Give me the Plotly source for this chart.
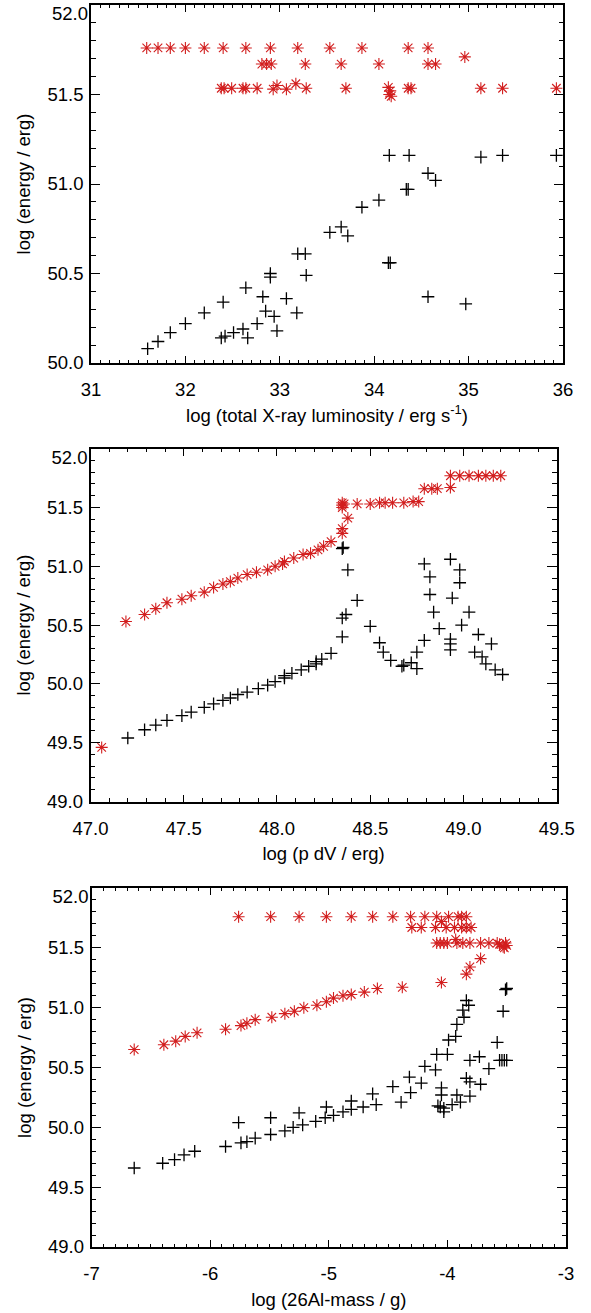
import plotly.graph_objects as go

# ---------------- Panel 1: log L_X vs log E ----------------
p1_red_x = [31.59, 31.71, 31.84, 32.00, 32.20, 32.40, 32.64, 32.90, 33.19, 33.53, 33.87, 34.36, 34.57, 34.96,
            32.81, 32.86, 32.91, 33.27, 33.65, 34.05, 34.57, 34.65,
            32.38, 32.41, 32.49, 32.61, 32.64, 32.76, 32.93, 32.97, 33.07, 33.17, 33.28, 33.70,
            34.15, 34.17, 34.16, 34.18, 34.36, 34.39, 35.13, 35.36, 35.93]
p1_red_y = [51.76, 51.76, 51.76, 51.76, 51.76, 51.76, 51.76, 51.76, 51.76, 51.76, 51.76, 51.76, 51.76, 51.71,
            51.67, 51.67, 51.67, 51.67, 51.67, 51.67, 51.67, 51.67,
            51.535, 51.535, 51.535, 51.535, 51.535, 51.535, 51.53, 51.55, 51.53, 51.56, 51.535, 51.535,
            51.54, 51.52, 51.50, 51.49, 51.535, 51.535, 51.535, 51.535, 51.535]
p1_blk_x = [31.60, 31.71, 31.84, 32.00, 32.20, 32.40, 32.38, 32.42, 32.51, 32.61, 32.66, 32.64, 32.76,
            32.82, 32.85, 32.90, 32.90, 32.94, 32.97, 33.07, 33.18, 33.19, 33.27, 33.28, 33.53, 33.65,
            33.72, 33.87, 34.05, 34.15, 34.17, 34.34, 34.36, 34.57, 34.65, 34.57, 34.97, 34.16, 34.37,
            35.13, 35.36, 35.93]
p1_blk_y = [50.08, 50.12, 50.17, 50.22, 50.28, 50.34, 50.14, 50.15, 50.17, 50.19, 50.14, 50.42, 50.22,
            50.37, 50.29, 50.50, 50.48, 50.26, 50.18, 50.36, 50.28, 50.61, 50.61, 50.49, 50.73, 50.76,
            50.71, 50.87, 50.91, 50.56, 50.56, 50.97, 50.97, 50.37, 51.02, 51.06, 50.33, 51.16, 51.16,
            51.15, 51.16, 51.16]

# ---------------- Panel 2: log pdV vs log E ----------------
p2_red_x = [47.06, 47.19, 47.29, 47.35, 47.41, 47.49, 47.54, 47.61, 47.66, 47.71, 47.75, 47.79, 47.84,
            47.89, 47.95, 47.99, 48.03, 48.04, 48.09, 48.14, 48.18, 48.22, 48.25, 48.29, 48.35, 48.35,
            48.38, 48.35, 48.35, 48.35, 48.36, 48.43, 48.50, 48.55, 48.58, 48.62, 48.68, 48.73, 48.76,
            48.79, 48.83, 48.86, 48.93, 48.93, 48.98, 49.03, 49.08, 49.12, 49.16, 49.20]
p2_red_y = [49.46, 50.53, 50.59, 50.64, 50.69, 50.72, 50.75, 50.78, 50.82, 50.85, 50.87, 50.90, 50.93,
            50.95, 50.97, 51.00, 51.02, 51.04, 51.07, 51.10, 51.11, 51.14, 51.17, 51.21, 51.28, 51.32,
            51.41, 51.50, 51.52, 51.54, 51.53, 51.53, 51.53, 51.54, 51.54, 51.54, 51.54, 51.55, 51.55,
            51.66, 51.66, 51.66, 51.67, 51.77, 51.77, 51.77, 51.77, 51.77, 51.77, 51.77]
p2_blk_x = [47.20, 47.29, 47.35, 47.41, 47.49, 47.54, 47.61, 47.66, 47.71, 47.75, 47.79, 47.84, 47.90,
            47.95, 47.99, 48.04, 48.04, 48.08, 48.13, 48.17, 48.21, 48.21, 48.24, 48.29,
            48.35, 48.35, 48.37, 48.43, 48.38, 48.35, 48.355,
            48.50, 48.55, 48.57, 48.61, 48.67, 48.68, 48.72, 48.75, 48.75,
            48.79, 48.79, 48.82, 48.82, 48.84, 48.87,
            48.93, 48.98, 48.98, 48.94, 49.03, 48.99, 48.93, 48.93, 48.93, 49.08, 49.15, 49.06, 49.10,
            49.12, 49.17, 49.21]
p2_blk_y = [49.54, 49.61, 49.65, 49.69, 49.73, 49.76, 49.80, 49.83, 49.86, 49.88, 49.91, 49.93, 49.96,
            49.99, 50.02, 50.05, 50.07, 50.09, 50.12, 50.15, 50.17, 50.19, 50.21, 50.26,
            50.40, 50.56, 50.59, 50.71, 50.97, 51.15, 51.16,
            50.49, 50.35, 50.27, 50.20, 50.15, 50.16, 50.18, 50.13, 50.27,
            50.37, 51.02, 50.91, 50.76, 50.61, 50.47,
            51.06, 50.97, 50.86, 50.73, 50.61, 50.50, 50.38, 50.34, 50.29, 50.42, 50.34, 50.27, 50.23,
            50.17, 50.12, 50.08]

# ---------------- Panel 3: log M(26Al) vs log E ----------------
p3_red_x = [-6.64, -6.39, -6.29, -6.21, -6.11, -5.87, -5.74, -5.69, -5.62, -5.48, -5.37, -5.29, -5.21,
            -5.10, -5.02, -4.96, -4.88, -4.81, -4.70, -4.59, -4.38, -4.05, -3.84, -3.81, -3.72,
            -5.76, -5.49, -5.25, -5.02, -4.81, -4.63, -4.46, -4.31, -4.19, -4.09, -3.99, -3.91, -3.88, -3.84,
            -4.05,
            -4.30, -4.22, -4.10, -4.01, -3.94, -3.88, -3.84, -3.80,
            -4.09, -4.06, -4.03, -4.00, -3.92, -3.87, -3.81, -3.72, -3.65, -3.58, -3.56, -3.53, -3.51,
            -3.50, -3.52, -3.93]
p3_red_y = [50.65, 50.69, 50.72, 50.76, 50.79, 50.82, 50.85, 50.87, 50.90, 50.92, 50.95, 50.97, 51.00,
            51.02, 51.05, 51.08, 51.10, 51.11, 51.13, 51.16, 51.17, 51.21, 51.28, 51.34, 51.41,
            51.76, 51.76, 51.76, 51.76, 51.76, 51.76, 51.76, 51.76, 51.76, 51.76, 51.76, 51.76, 51.76, 51.76,
            51.72,
            51.67, 51.67, 51.67, 51.67, 51.67, 51.67, 51.67, 51.67,
            51.54, 51.54, 51.54, 51.54, 51.54, 51.54, 51.54, 51.54, 51.54, 51.54, 51.53, 51.51, 51.54,
            51.52, 51.50, 51.57]
p3_blk_x = [-6.64, -6.40, -6.30, -6.22, -6.13, -5.87, -5.74, -5.69, -5.62, -5.76, -5.49, -5.49, -5.37,
            -5.30, -5.22, -5.25, -5.11, -5.03, -5.02, -4.96, -4.88, -4.81, -4.81, -4.71, -4.60, -4.63,
            -4.39, -4.31, -4.08, -4.06, -4.03, -4.03, -4.05, -3.96, -3.92, -3.89, -3.81,
            -4.46, -4.32, -4.22, -4.19, -4.10, -4.09, -4.00, -4.05, -3.99, -3.93, -3.92, -3.86, -3.87,
            -3.84, -3.82, -3.84, -3.81, -3.72, -3.81, -3.73, -3.65, -3.58, -3.53, -3.50, -3.51,
            -3.56, -3.54, -3.52, -3.50]
p3_blk_y = [49.66, 49.70, 49.73, 49.77, 49.80, 49.84, 49.87, 49.88, 49.91, 50.04, 49.94, 50.08, 49.97,
            50.00, 50.02, 50.12, 50.05, 50.08, 50.17, 50.10, 50.13, 50.15, 50.22, 50.17, 50.19, 50.28,
            50.21, 50.29, 50.18, 50.17, 50.16, 50.13, 50.27, 50.19, 50.27, 50.21, 50.26,
            50.34, 50.42, 50.37, 50.51, 50.48, 50.61, 50.61, 50.33, 50.73, 50.76, 50.86, 50.92, 50.98,
            51.06, 51.02, 50.41, 50.38, 50.36, 50.56, 50.59, 50.49, 50.71, 50.97, 51.16, 51.15,
            50.56, 50.56, 50.56, 50.56]

# ---------------- Axis tick labels ----------------
x1_tickvals = [31, 32, 33, 34, 35, 36]
x1_ticktext = ["31", "32", "33", "34", "35", "36"]
x2_tickvals = [47.0, 47.5, 48.0, 48.5, 49.0, 49.5]
x2_ticktext = ["47.0", "47.5", "48.0", "48.5", "49.0", "49.5"]
x3_tickvals = [-7, -6, -5, -4, -3]
x3_ticktext = ["-7", "-6", "-5", "-4", "-3"]
y1_tickvals = [50.0, 50.5, 51.0, 51.5]
y1_ticktext = ["50.0", "50.5", "51.0", "51.5"]
y23_tickvals = [49.0, 49.5, 50.0, 50.5, 51.0, 51.5]
y23_ticktext = ["49.0", "49.5", "50.0", "50.5", "51.0", "51.5"]
ytop_tickvals = [52.0]          # top label, drawn slightly below the corner as in the original
ytop_ticktext = ["52.0"]

x_titles = ["log (total X-ray luminosity / erg s<sup>-1</sup>)", "log (p dV / erg)", "log (26Al-mass / g)"]
y_title = "log (energy / erg)"

W, H = 591, 1313
RED = "rgb(210,30,30)"
FONT = "Liberation Sans"
FS = 18.5

fig = go.Figure()

def add_panel(i, bx, by, rx, ry):
    xa = "x" if i == 1 else f"x{i}"
    ya = "y" if i == 1 else f"y{i}"
    fig.add_trace(go.Scatter(x=bx, y=by, mode="markers", xaxis=xa, yaxis=ya, cliponaxis=False,
                             marker=dict(symbol="cross-thin-open", size=9, color="black",
                                         line=dict(color="black", width=1.3)),
                             showlegend=False, hoverinfo="x+y"))
    fig.add_trace(go.Scatter(x=rx, y=ry, mode="markers", xaxis=xa, yaxis=ya, cliponaxis=False,
                             marker=dict(symbol="asterisk-open", size=10, color=RED,
                                         line=dict(color=RED, width=1.1)),
                             showlegend=False, hoverinfo="x+y"))
    # carrier trace for the overlay axis holding the top tick label
    fig.add_trace(go.Scatter(x=[None], y=[None], mode="markers", xaxis=xa, yaxis=f"y{i+3}",
                             showlegend=False, hoverinfo="skip"))

add_panel(1, p1_blk_x, p1_blk_y, p1_red_x, p1_red_y)
add_panel(2, p2_blk_x, p2_blk_y, p2_red_x, p2_red_y)
add_panel(3, p3_blk_x, p3_blk_y, p3_red_x, p3_red_y)

# pixel geometry of each panel (left, right, top, bottom)
geo = [(91, 563, 5, 363), (90.5, 556.7, 448.7, 801.5), (91.5, 566, 888, 1247)]
xranges = [[31, 36], [47, 49.5], [-7, -3]]
yranges = [[50, 52], [49, 52], [49, 52]]
xticks = [(x1_tickvals, x1_ticktext), (x2_tickvals, x2_ticktext), (x3_tickvals, x3_ticktext)]
yticks = [(y1_tickvals, y1_ticktext), (y23_tickvals, y23_ticktext), (y23_tickvals, y23_ticktext)]
tickfont = dict(family=FONT, size=FS, color="black")

for k in range(3):
    l, r, t, b = geo[k]
    sx = "xaxis" if k == 0 else f"xaxis{k+1}"
    sy = "yaxis" if k == 0 else f"yaxis{k+1}"
    anchor_x = "y" if k == 0 else f"y{k+1}"
    anchor_y = "x" if k == 0 else f"x{k+1}"
    common = dict(showline=True, linecolor="black", linewidth=1.6, mirror="ticks",
                  ticks="inside", tickwidth=1.2, tickcolor="black",
                  showgrid=False, zeroline=False, automargin=False, tickfont=tickfont)
    fig.layout[sx] = dict(common, domain=[l / W, r / W], range=xranges[k], anchor=anchor_x,
                          ticklen=7,
                          tickmode="array", tickvals=xticks[k][0], ticktext=xticks[k][1],
                          ticklabelstandoff=9,
                          minor=dict(ticks="inside", ticklen=3.5, tickwidth=1, tickcolor="black",
                                     tick0=xranges[k][0], dtick=0.1),
                          title=dict(text=x_titles[k], font=dict(family=FONT, size=FS, color="black"),
                                     standoff=10))
    fig.layout[sy] = dict(common, domain=[1 - b / H, 1 - t / H], range=yranges[k], anchor=anchor_y,
                          ticklen=9.5,
                          tickmode="array", tickvals=yticks[k][0], ticktext=yticks[k][1],
                          ticklabelstandoff=2,
                          minor=dict(ticks="inside", ticklen=4.7, tickwidth=1, tickcolor="black",
                                     tick0=yranges[k][0], dtick=0.1),
                          title=dict(text=y_title, font=dict(family=FONT, size=FS, color="black"),
                                     standoff=12))
    # overlay axis carrying only the top label (52.0), shifted down a little
    fig.layout[f"yaxis{k+4}"] = dict(overlaying=anchor_x, anchor=anchor_y, side="left",
                                     range=yranges[k], showline=False, showgrid=False,
                                     zeroline=False, ticks="", automargin=False,
                                     tickmode="array", tickvals=ytop_tickvals, ticktext=ytop_ticktext,
                                     ticklabelstandoff=2, ticklabelshift=9,
                                     ticklabeloverflow="allow", tickfont=tickfont)

fig.update_layout(width=W, height=H, margin=dict(l=0, r=0, t=0, b=0),
                  paper_bgcolor="white", plot_bgcolor="white")

fig.write_html("out.html", config={"displayModeBar": False},
               post_script="document.body.style.margin='0';")
